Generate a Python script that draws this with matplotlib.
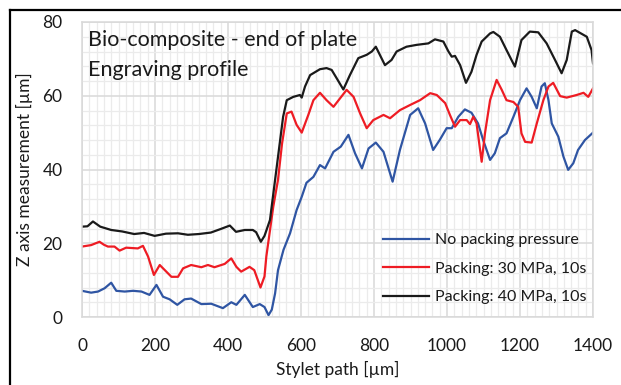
import matplotlib
matplotlib.use("Agg")
import matplotlib.pyplot as plt
from matplotlib.lines import Line2D
from matplotlib.ticker import MultipleLocator

plt.rcParams['font.family'] = ['Lato', 'DejaVu Sans']

# ---- data ----
x_none = [0, 25, 44, 62, 80, 94, 117, 140, 163, 185, 204, 222, 240, 261, 281, 299, 327, 354,
          386, 409, 423, 446, 468, 487, 500, 511, 520, 529, 537, 552, 570, 588, 602, 615, 634,
          652, 666, 689, 709, 730, 748, 767, 785, 805, 826, 851, 871, 899, 921, 940, 962, 980,
          999, 1013, 1031, 1049, 1067, 1085, 1099, 1118, 1131, 1145, 1163, 1182, 1200, 1218,
          1232, 1246, 1259, 1268, 1278, 1287, 1305, 1319, 1332, 1346, 1359, 1378, 1400]
y_none = [7.1, 6.6, 6.9, 7.8, 9.3, 7.1, 6.9, 7.1, 6.9, 6.0, 8.7, 5.5, 4.8, 3.3, 4.8, 5.0, 3.5, 3.6,
          2.4, 4.0, 3.3, 6.0, 2.7, 3.5, 2.7, 0.5, 2.0, 6.4, 12.7, 18.2, 22.7, 29.0, 32.6, 36.4, 38.0,
          41.2, 40.3, 44.8, 46.2, 49.4, 44.4, 40.3, 45.7, 47.3, 44.8, 36.7, 45.3, 54.8, 56.6, 52.5,
          45.3, 48.0, 51.2, 51.2, 54.3, 56.3, 55.4, 52.5, 48.0, 42.6, 44.4, 48.5, 49.8, 54.3, 58.8,
          62.0, 59.7, 56.6, 62.5, 63.4, 58.8, 52.5, 48.9, 43.5, 39.9, 41.7, 45.3, 48.0, 50.0]

x_30 = [0, 25, 48, 60, 71, 89, 103, 121, 153, 167, 181, 197, 213, 227, 245, 263, 277, 299, 327,
        345, 363, 391, 409, 423, 436, 459, 472, 489, 500, 505, 524, 537, 548, 561, 574, 588, 602,
        620, 634, 652, 670, 689, 707, 725, 744, 762, 780, 798, 826, 844, 871, 899, 926, 954, 972,
        995, 1008, 1022, 1036, 1054, 1063, 1072, 1081, 1095, 1104, 1118, 1136, 1150, 1163, 1182,
        1195, 1204, 1214, 1232, 1246, 1264, 1278, 1291, 1310, 1328, 1355, 1374, 1387, 1400]
y_30 = [19.1, 19.5, 20.4, 19.6, 19.1, 19.1, 18.0, 18.8, 18.6, 19.3, 16.4, 11.4, 14.1, 12.7, 10.9,
        10.9, 13.2, 14.1, 13.5, 14.1, 13.5, 14.4, 15.9, 13.6, 12.3, 13.6, 12.7, 8.0, 11.0, 16.4,
        29.9, 37.2, 47.0, 55.2, 55.7, 52.1, 50.0, 54.8, 58.8, 60.8, 58.8, 57.0, 59.3, 61.6, 59.7,
        55.2, 51.2, 53.4, 54.8, 53.9, 56.1, 57.5, 58.8, 60.7, 60.2, 58.0, 54.8, 51.6, 53.4, 53.4,
        52.3, 54.3, 52.5, 42.1, 49.8, 58.8, 64.3, 61.6, 58.8, 58.3, 57.0, 49.8, 47.5, 47.3, 52.5,
        58.8, 62.5, 63.5, 59.9, 59.5, 60.2, 60.8, 59.7, 62.0]

x_40 = [0, 15, 30, 50, 80, 110, 143, 170, 199, 230, 263, 290, 320, 353, 381, 405, 422, 446, 468,
        477, 490, 500, 515, 529, 551, 561, 579, 597, 602, 611, 625, 652, 670, 684, 698, 716, 734,
        757, 780, 794, 805, 816, 830, 848, 862, 889, 917, 949, 967, 990, 1004, 1013, 1022, 1036,
        1052, 1067, 1081, 1095, 1118, 1127, 1145, 1163, 1186, 1204, 1227, 1250, 1273, 1296, 1314,
        1328, 1342, 1351, 1383, 1396, 1400]
y_40 = [24.5, 24.6, 25.9, 24.5, 23.6, 23.2, 22.5, 22.8, 22.0, 22.6, 22.7, 22.3, 22.5, 22.9, 23.9,
        24.8, 23.1, 23.6, 23.6, 23.0, 20.4, 22.0, 26.3, 37.2, 54.3, 58.8, 59.7, 60.2, 59.5, 62.5,
        65.6, 67.2, 67.5, 67.0, 64.7, 61.7, 65.6, 70.2, 71.1, 72.0, 73.3, 71.1, 68.3, 69.7, 72.0,
        73.3, 73.8, 74.2, 75.3, 74.7, 72.0, 70.6, 70.8, 68.3, 63.5, 66.5, 71.1, 74.7, 76.9, 77.3,
        76.0, 72.4, 67.9, 75.1, 77.4, 77.2, 74.2, 69.7, 66.1, 69.7, 77.4, 77.8, 76.0, 72.4, 68.8]

labels = ["No packing pressure", "Packing: 30 MPa, 10s", "Packing: 40 MPa, 10s"]
colors = ["#2f55a3", "#ee1c24", "#1a1a1a"]
title_lines = ["Bio-composite - end of plate", "Engraving profile"]
x_ticks = [0, 200, 400, 600, 800, 1000, 1200, 1400]
y_ticks = [0, 20, 40, 60, 80]

W, H = 621, 385
fig = plt.figure(figsize=(W / 100, H / 100), dpi=100)
ax = fig.add_axes([82 / W, 1 - 317 / H, (593 - 82) / W, (317 - 22) / H])

for xs, ys, lab, c in zip([x_none, x_30, x_40], [y_none, y_30, y_40], labels, colors):
    ax.plot(xs, ys, color=c, lw=1.6, label=lab, solid_joinstyle='round')

ax.set_xlim(0, 1400)
ax.set_ylim(0, 80)
ax.set_xticks(x_ticks)
ax.set_yticks(y_ticks)
ax.xaxis.set_minor_locator(MultipleLocator(20))
ax.yaxis.set_minor_locator(MultipleLocator(4))
ax.grid(which='major', color='#d9d9d9', lw=1.1)
ax.grid(which='minor', color='#ebebeb', lw=0.9)
ax.set_axisbelow(True)
ax.tick_params(which='both', length=0)
ax.tick_params(axis='x', labelsize=12.5, pad=15, colors='#1a1a1a')
ax.tick_params(axis='y', labelsize=12.5, pad=14, colors='#1a1a1a')
for s in ax.spines.values():
    s.set_color('#d9d9d9')
    s.set_linewidth(1.1)

ax.set_xlabel("Stylet path [µm]", fontsize=12.5, labelpad=5, color='#1a1a1a')
ax.set_ylabel("Z axis measurement [µm]", fontsize=12.5, labelpad=7, color='#1a1a1a')

ax.text(6 / (593 - 82), 1 - 24 / (317 - 22), title_lines[0], transform=ax.transAxes,
        fontsize=15.5, va='baseline', ha='left', color='#1a1a1a')
ax.text(6 / (593 - 82), 1 - 54 / (317 - 22), title_lines[1], transform=ax.transAxes,
        fontsize=15.5, va='baseline', ha='left', color='#1a1a1a')

leg = ax.legend(loc='upper left', bbox_to_anchor=(383 / W, 1 - 233 / H),
                bbox_transform=fig.transFigure, frameon=False, fontsize=11.5,
                handlelength=2.9, handletextpad=0.35, labelspacing=0.9,
                borderpad=0, borderaxespad=0)
for t in leg.get_texts():
    t.set_color('#1a1a1a')

# figure border (top and left visible)
fig.add_artist(Line2D([10 / W, 1], [1 - 10 / H, 1 - 10 / H], transform=fig.transFigure,
                      color='black', lw=1.6))
fig.add_artist(Line2D([10 / W, 10 / W], [0, 1 - 10 / H], transform=fig.transFigure,
                      color='black', lw=1.6))

fig.savefig("out.png", dpi=100)
